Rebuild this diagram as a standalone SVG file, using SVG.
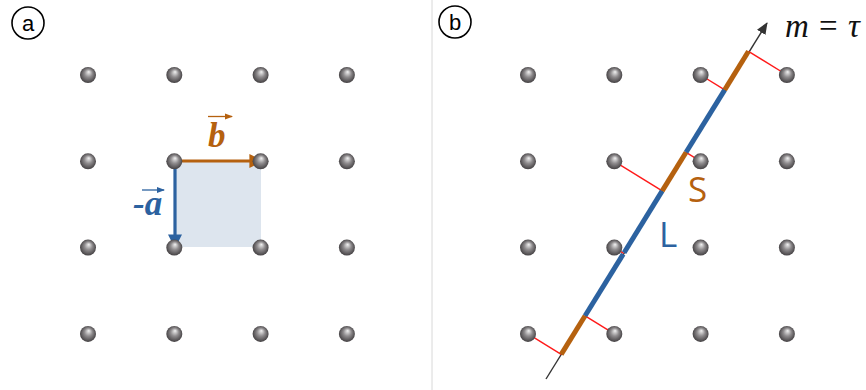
<svg xmlns="http://www.w3.org/2000/svg" width="866" height="390" viewBox="0 0 866 390">
<style>
.lbl{font-family:"Liberation Sans",Arial,sans-serif;font-size:22px;fill:#000}
.circ{fill:none;stroke:#000;stroke-width:1.6}
.orange{stroke:#b5610f}
.blue{stroke:#2c62a0}
.seg{stroke-width:5;stroke-linecap:butt}
.red{stroke:#ff1a1a;stroke-width:1.4}
.vec{font-family:"Liberation Serif","Times New Roman",serif;font-style:italic;font-weight:bold;font-size:35px}
.sl{font-family:"Open Sans","Noto Sans",sans-serif;font-size:35px}
.math{font-family:"Liberation Serif","Times New Roman",serif;font-size:33px;fill:#111}
</style>
<defs>
<radialGradient id="sph" cx="50%" cy="50%" r="55%" fx="55%" fy="30%">
<stop offset="0" stop-color="#f2f2f2"/>
<stop offset="0.45" stop-color="#8f8c8e"/>
<stop offset="1" stop-color="#3a3739"/>
</radialGradient>
<circle id="dot" r="8" fill="url(#sph)"/>
<marker id="ah" viewBox="0 0 12 10" refX="11" refY="5" markerWidth="12" markerHeight="10" markerUnits="userSpaceOnUse" orient="auto">
<path d="M0,0 L12,5 L0,10 z" fill="#333"/>
</marker>
<marker id="ahO" viewBox="0 0 10 10" refX="9" refY="5" markerWidth="14" markerHeight="14" markerUnits="userSpaceOnUse" orient="auto">
<path d="M0,0 L10,5 L0,10 z" fill="#b5610f"/>
</marker>
<marker id="ahB" viewBox="0 0 10 10" refX="9" refY="5" markerWidth="14" markerHeight="14" markerUnits="userSpaceOnUse" orient="auto">
<path d="M0,0 L10,5 L0,10 z" fill="#2c62a0"/>
</marker>
</defs>
<rect width="866" height="390" fill="#fff"/>
<line x1="432" y1="0" x2="432" y2="390" stroke="#d8d8d8" stroke-width="1"/>

<g id="label-a">
<circle class="circ" cx="28" cy="23" r="16"/>
<text class="lbl" x="28" y="31" text-anchor="middle">a</text>
</g>
<g id="label-b">
<circle class="circ" cx="455" cy="22" r="16"/>
<text class="lbl" x="455" y="30" text-anchor="middle">b</text>
</g>

<g id="cell">
<rect x="175" y="161" width="86" height="86" fill="#dde5ee"/>
</g>

<g id="connectors">
<line x1="175" y1="161" x2="262" y2="161" stroke="#b5610f" stroke-width="3.2" marker-end="url(#ahO)"/>
<line x1="175" y1="161" x2="175" y2="247" stroke="#2c62a0" stroke-width="3.2" marker-end="url(#ahB)"/>
<line x1="546" y1="379" x2="767" y2="23" stroke="#333" stroke-width="1.4" marker-end="url(#ah)"/>
<g class="red">
<line x1="528" y1="333.9" x2="561.2" y2="354.4"/>
<line x1="614.3" y1="333.9" x2="585.1" y2="315.8"/>
<line x1="614.3" y1="247.6" x2="623.6" y2="253.4"/>
<line x1="614.3" y1="161.3" x2="662.2" y2="190.9"/>
<line x1="700.6" y1="161.3" x2="686.1" y2="152.3"/>
<line x1="700.6" y1="75" x2="724.7" y2="89.9"/>
<line x1="786.9" y1="75" x2="748.5" y2="51.3"/>
</g>
<line class="seg orange" x1="561.2" y1="354.4" x2="585.1" y2="315.8"/>
<line class="seg blue" x1="585.1" y1="315.8" x2="623.2" y2="254.1"/>
<line class="seg blue" x1="624.1" y1="252.7" x2="662.2" y2="190.9"/>
<line class="seg orange" x1="662.2" y1="190.9" x2="686.1" y2="152.3"/>
<line class="seg blue" x1="686.1" y1="152.3" x2="724.7" y2="89.9"/>
<line class="seg orange" x1="724.7" y1="89.9" x2="748.5" y2="51.3"/>
</g>

<g id="lattice-a">
<use href="#dot" x="88" y="75"/><use href="#dot" x="174.3" y="75"/><use href="#dot" x="260.6" y="75"/><use href="#dot" x="346.9" y="75"/>
<use href="#dot" x="88" y="161.3"/><use href="#dot" x="174.3" y="161.3"/><use href="#dot" x="260.6" y="161.3"/><use href="#dot" x="346.9" y="161.3"/>
<use href="#dot" x="88" y="247.6"/><use href="#dot" x="174.3" y="247.6"/><use href="#dot" x="260.6" y="247.6"/><use href="#dot" x="346.9" y="247.6"/>
<use href="#dot" x="88" y="333.9"/><use href="#dot" x="174.3" y="333.9"/><use href="#dot" x="260.6" y="333.9"/><use href="#dot" x="346.9" y="333.9"/>
</g>
<g id="lattice-b">
<use href="#dot" x="528" y="75"/><use href="#dot" x="614.3" y="75"/><use href="#dot" x="700.6" y="75"/><use href="#dot" x="786.9" y="75"/>
<use href="#dot" x="528" y="161.3"/><use href="#dot" x="614.3" y="161.3"/><use href="#dot" x="700.6" y="161.3"/><use href="#dot" x="786.9" y="161.3"/>
<use href="#dot" x="528" y="247.6"/><use href="#dot" x="614.3" y="247.6"/><use href="#dot" x="700.6" y="247.6"/><use href="#dot" x="786.9" y="247.6"/>
<use href="#dot" x="528" y="333.9"/><use href="#dot" x="614.3" y="333.9"/><use href="#dot" x="700.6" y="333.9"/><use href="#dot" x="786.9" y="333.9"/>
</g>

<g id="vec-b">
<line x1="208" y1="116.5" x2="232" y2="116.5" stroke="#b5610f" stroke-width="1.3"/>
<path d="M225,113.5 L233,116.5 L225,119.5 z" fill="#b5610f"/>
<text class="vec" x="208" y="147" fill="#b5610f">b</text>
</g>
<g id="vec-a">
<line x1="142" y1="190" x2="164" y2="190" stroke="#2c62a0" stroke-width="1.3"/>
<path d="M157,187 L165,190 L157,193 z" fill="#2c62a0"/>
<text class="vec" x="133" y="215" fill="#2c62a0">-a</text>
</g>

<g id="label-S"><text class="sl" x="688" y="202" fill="#b5610f">S</text></g>
<g id="label-L"><text class="sl" x="659" y="247" fill="#2c62a0">L</text></g>
<g id="label-m">
<text class="math" y="37"><tspan x="785" font-style="italic">m</tspan><tspan x="819">=</tspan><tspan x="848" font-style="italic">τ</tspan></text>
</g>
</svg>
